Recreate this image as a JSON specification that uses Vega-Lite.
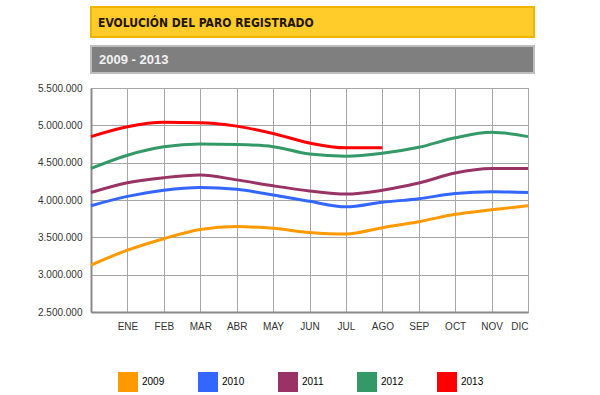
{
  "$schema": "https://vega.github.io/schema/vega-lite/v6.json",
  "padding": {"left": 37, "top": 6, "right": 5, "bottom": 3},
  "background": "white",
  "config": {"font": "Liberation Sans", "view": {"stroke": null}},
  "spacing": 7,
  "vconcat": [
    {
      "width": 443, "height": 30,
      "view": {"fill": "#FFCC29", "stroke": "#F0B400", "strokeWidth": 2},
      "data": {"values": [{"t": "EVOLUCIÓN DEL PARO REGISTRADO"}]},
      "mark": {"type": "text", "align": "left", "baseline": "middle", "dx": 7, "dy": 1, "font": "DejaVu Sans Condensed", "fontWeight": "bold", "fontSize": 12, "color": "#1F1500"},
      "encoding": {
        "x": {"datum": 0, "type": "quantitative", "scale": {"domain": [0, 1]}, "axis": null},
        "y": {"datum": 0.5, "type": "quantitative", "scale": {"domain": [0, 1]}, "axis": null},
        "text": {"field": "t"}
      }
    },
    {
      "width": 443, "height": 27,
      "view": {"fill": "#7F7F7F", "stroke": "#BDBDBD", "strokeWidth": 2},
      "data": {"values": [{"t": "2009 - 2013"}]},
      "mark": {"type": "text", "align": "left", "baseline": "middle", "dx": 8, "fontWeight": "bold", "fontSize": 13, "color": "#F2F2F2"},
      "encoding": {
        "x": {"datum": 0, "type": "quantitative", "scale": {"domain": [0, 1]},
              "axis": {"orient": "bottom", "labels": false, "ticks": false, "domain": false, "grid": false, "title": "x", "titleColor": "#FFFFFF", "titleFontSize": 1, "titlePadding": 0}},
        "y": {"datum": 0.5, "type": "quantitative", "scale": {"domain": [0, 1]}, "axis": null},
        "text": {"field": "t"}
      }
    },
    {
      "width": 437, "height": 224,
      "view": {"stroke": "#A0A0A0", "strokeWidth": 1},
      "data": {"values": [
        {"year": "2009", "m": 0, "v": 3128963}, {"year": "2009", "m": 1, "v": 3327801}, {"year": "2009", "m": 2, "v": 3481859}, {"year": "2009", "m": 3, "v": 3605402}, {"year": "2009", "m": 4, "v": 3644041}, {"year": "2009", "m": 5, "v": 3620139}, {"year": "2009", "m": 6, "v": 3564889}, {"year": "2009", "m": 7, "v": 3544105}, {"year": "2009", "m": 8, "v": 3629080}, {"year": "2009", "m": 9, "v": 3709447}, {"year": "2009", "m": 10, "v": 3808353}, {"year": "2009", "m": 11, "v": 3868946}, {"year": "2009", "m": 12, "v": 3923603},
        {"year": "2010", "m": 0, "v": 3923603}, {"year": "2010", "m": 1, "v": 4048493}, {"year": "2010", "m": 2, "v": 4130625}, {"year": "2010", "m": 3, "v": 4166613}, {"year": "2010", "m": 4, "v": 4142425}, {"year": "2010", "m": 5, "v": 4066202}, {"year": "2010", "m": 6, "v": 3982368}, {"year": "2010", "m": 7, "v": 3908685}, {"year": "2010", "m": 8, "v": 3969661}, {"year": "2010", "m": 9, "v": 4017763}, {"year": "2010", "m": 10, "v": 4085976}, {"year": "2010", "m": 11, "v": 4110294}, {"year": "2010", "m": 12, "v": 4100073},
        {"year": "2011", "m": 0, "v": 4100073}, {"year": "2011", "m": 1, "v": 4231003}, {"year": "2011", "m": 2, "v": 4299263}, {"year": "2011", "m": 3, "v": 4333669}, {"year": "2011", "m": 4, "v": 4269360}, {"year": "2011", "m": 5, "v": 4189659}, {"year": "2011", "m": 6, "v": 4121801}, {"year": "2011", "m": 7, "v": 4079742}, {"year": "2011", "m": 8, "v": 4130927}, {"year": "2011", "m": 9, "v": 4226744}, {"year": "2011", "m": 10, "v": 4360926}, {"year": "2011", "m": 11, "v": 4420462}, {"year": "2011", "m": 12, "v": 4422359},
        {"year": "2012", "m": 0, "v": 4422359}, {"year": "2012", "m": 1, "v": 4599829}, {"year": "2012", "m": 2, "v": 4712098}, {"year": "2012", "m": 3, "v": 4750867}, {"year": "2012", "m": 4, "v": 4744235}, {"year": "2012", "m": 5, "v": 4714122}, {"year": "2012", "m": 6, "v": 4615269}, {"year": "2012", "m": 7, "v": 4587455}, {"year": "2012", "m": 8, "v": 4625634}, {"year": "2012", "m": 9, "v": 4705279}, {"year": "2012", "m": 10, "v": 4833521}, {"year": "2012", "m": 11, "v": 4907817}, {"year": "2012", "m": 12, "v": 4848723},
        {"year": "2013", "m": 0, "v": 4848723}, {"year": "2013", "m": 1, "v": 4980778}, {"year": "2013", "m": 2, "v": 5040222}, {"year": "2013", "m": 3, "v": 5035243}, {"year": "2013", "m": 4, "v": 4989193}, {"year": "2013", "m": 5, "v": 4890928}, {"year": "2013", "m": 6, "v": 4763680}, {"year": "2013", "m": 7, "v": 4698814}, {"year": "2013", "m": 8, "v": 4698783}
      ]},
      "mark": {"type": "line", "interpolate": "monotone", "strokeWidth": 3},
      "encoding": {
        "x": {
          "field": "m", "type": "quantitative",
          "scale": {"domain": [0, 12], "nice": false},
          "axis": {
            "values": [0, 1, 2, 3, 4, 5, 6, 7, 8, 9, 10, 11, 12],
            "labelExpr": "['','ENE','FEB','MAR','ABR','MAY','JUN','JUL','AGO','SEP','OCT','NOV','DIC'][datum.value]",
            "title": null, "grid": true, "gridColor": "#A6A6A6", "gridWidth": 1,
            "ticks": false, "labelPadding": 9, "domainColor": "#8A8A8A", "domainWidth": 2,
            "labelFontSize": 10, "labelColor": "#333333", "labelFont": "Liberation Sans"
          }
        },
        "y": {
          "field": "v", "type": "quantitative",
          "scale": {"domain": [2500000, 5500000], "nice": false, "zero": false},
          "axis": {
            "values": [2500000, 3000000, 3500000, 4000000, 4500000, 5000000, 5500000],
            "labelExpr": "replace(replace(format(datum.value, ','), ',', '.'), ',', '.')",
            "title": null, "grid": true, "gridColor": "#A6A6A6", "gridWidth": 1,
            "ticks": false, "labelPadding": 9, "domainColor": "#8A8A8A", "domainWidth": 2,
            "labelFontSize": 10, "labelColor": "#333333", "labelFont": "Liberation Sans"
          }
        },
        "color": {
          "field": "year", "type": "nominal",
          "scale": {"domain": ["2009", "2010", "2011", "2012", "2013"], "range": ["#FF9900", "#3366FF", "#993366", "#339966", "#FF0000"]},
          "legend": {
            "orient": "none", "legendX": 27, "legendY": 365, "direction": "horizontal", "columns": 5,
            "title": null, "symbolType": "square", "symbolSize": 100, "symbolStrokeWidth": 10,
            "labelFontSize": 10, "labelColor": "#000000", "columnPadding": 18, "labelOffset": 4, "padding": 0
          }
        }
      }
    }
  ]
}
